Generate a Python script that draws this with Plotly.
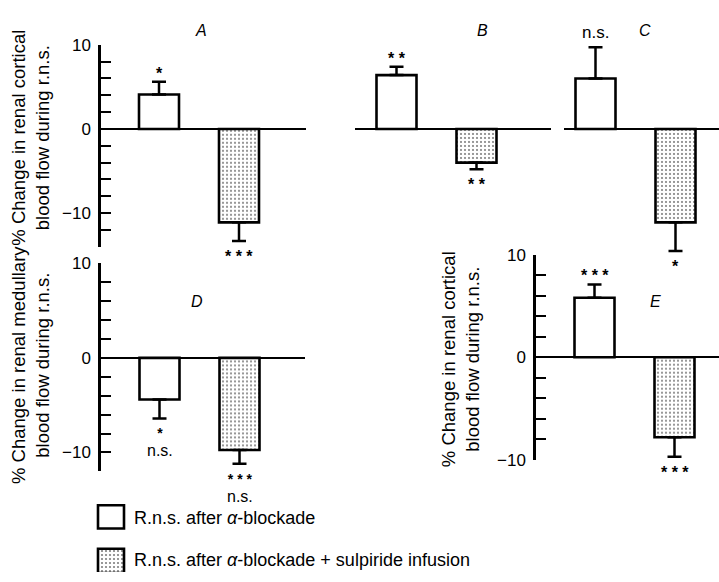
import plotly.graph_objects as go

W, H = 719, 582
FONT = "Liberation Sans, Arial, Helvetica, sans-serif"

# ---------------- data ----------------
panels = ["A", "B", "C", "D", "E"]
series_names = ["R.n.s. after <i>α</i>-blockade",
                "R.n.s. after <i>α</i>-blockade + sulpiride infusion"]
blockade = [4.1, 6.4, 6.0, -4.4, 5.8]
blockade_err = [1.5, 1.0, 3.7, 2.0, 1.3]
sulpiride = [-11.1, -4.0, -11.1, -9.75, -7.8]
sulpiride_err = [2.2, 0.8, 3.4, 1.45, 1.9]
blockade_sig = [["*"], ["* *"], ["n.s."], ["*", "n.s."], ["* * *"]]
sulpiride_sig = [["* * *"], ["* *"], ["*"], ["* * *", "n.s."], ["* * *"]]
tick_vals = [-10, 0, 10]
tick_text = ["−10", "0", "10"]
axis_titles = {
    "A": "% Change in renal cortical<br>blood flow during r.n.s.",
    "D": "% Change in renal medullary<br>blood flow during r.n.s.",
    "E": "% Change in renal cortical<br>blood flow during r.n.s.",
}

# ---------------- layout geometry (pixels) ----------------
geom = {
    "A": dict(x0=101, x1=306, c1=159, yr=(-14, 10), zero=124, ppu=8.7, axis=True),
    "B": dict(x0=355, x1=551, c1=396.5, yr=(-16, 12), zero=124, ppu=8.7, axis=False),
    "C": dict(x0=564, x1=719, c1=595.5, yr=(-16, 12), zero=124, ppu=8.7, axis=False),
    "D": dict(x0=101, x1=305, c1=159.5, yr=(-12, 10), zero=360.7, ppu=9.77, axis=True),
    "E": dict(x0=536, x1=719, c1=594.5, yr=(-10, 10), zero=360, ppu=10.6, axis=True),
}
label_pos = {"A": (201, 22), "B": (482, 22), "C": (645, 22), "D": (197, 302), "E": (655, 302)}
title_pos = {"A": (31, 133), "D": (31, 368), "E": (460, 362)}
SPACING = 80.0


def px(x):
    return x / W


def py(y):
    return 1 - y / H


def sig_text(sigs):
    two = len(sigs) > 1
    parts = []
    for s in sigs:
        if "*" in s:
            size = 14 if two else 16
            parts.append(f"<span style='font-size:{size}px'><b>{s}</b></span>")
        else:
            size = 16 if two else 17
            parts.append(f"<span style='font-size:{size}px'>{s}</span>")
    return "<br>".join(parts), (13.5 if two else 8)


fig = go.Figure()
annotations = []
layout = dict(
    width=W, height=H, margin=dict(l=0, r=0, t=0, b=0),
    paper_bgcolor="white", plot_bgcolor="rgba(0,0,0,0)",
    showlegend=False, barmode="overlay",
    font=dict(family=FONT, color="black"),
)

DOTS = dict(shape=".", fgcolor="black", bgcolor="white", size=4, solidity=0.22)

for i, p in enumerate(panels):
    g = geom[p]
    n = i + 1
    xa = "x" if n == 1 else f"x{n}"
    ya = "y" if n == 1 else f"y{n}"
    xk = "xaxis" if n == 1 else f"xaxis{n}"
    yk = "yaxis" if n == 1 else f"yaxis{n}"
    lo, hi = g["yr"]
    top_px = g["zero"] - hi * g["ppu"]
    bot_px = g["zero"] - lo * g["ppu"]
    xr = (1 - (g["c1"] - g["x0"]) / SPACING, 1 + (g["x1"] - g["c1"]) / SPACING)

    layout[xk] = dict(domain=[px(g["x0"]), px(g["x1"])], range=list(xr),
                      visible=False, anchor=ya, fixedrange=True)
    yd = dict(domain=[py(bot_px), py(top_px)], range=[lo, hi], anchor=xa,
              zeroline=True, zerolinecolor="black", zerolinewidth=2.2,
              showgrid=False, fixedrange=True)
    if g["axis"]:
        yd.update(showline=True, linecolor="black", linewidth=2.5,
                  ticks="inside", ticklen=10, tickwidth=2.2, tickcolor="black",
                  tickmode="array", tickvals=tick_vals, ticktext=tick_text,
                  tickfont=dict(family=FONT, size=17, color="black"),
                  ticklabelstandoff=4,
                  minor=dict(tickmode="linear", tick0=0, dtick=2, ticks="inside",
                             ticklen=10, tickwidth=2.2, tickcolor="black"))
    else:
        yd.update(showline=False, ticks="", showticklabels=False)
    layout[yk] = yd

    vals = [blockade[i], sulpiride[i]]
    errs = [blockade_err[i], sulpiride_err[i]]
    for j, (v, e) in enumerate(zip(vals, errs)):
        up = v >= 0
        pattern = dict(shape="") if j == 0 else DOTS
        fig.add_trace(go.Bar(
            x=[j + 1], y=[v], width=0.5, xaxis=xa, yaxis=ya,
            name=series_names[j],
            marker=dict(color="white", line=dict(color="black", width=2.6),
                        pattern=pattern),
            error_y=dict(type="data", symmetric=False,
                         array=[e if up else 0], arrayminus=[0 if up else e],
                         color="black", thickness=2.5, width=7),
            cliponaxis=False,
        ))
        sigs = (blockade_sig if j == 0 else sulpiride_sig)[i]
        end = v + e if up else v - e
        star = "*" in sigs[0]
        text, base = sig_text(sigs)
        if up:
            yanchor, shift = "bottom", (-2 if star else 3)
        else:
            yanchor, shift = "top", -5
        annotations.append(dict(
            x=j + 1, y=end, xref=xa, yref=ya, text=text, showarrow=False,
            yshift=shift, yanchor=yanchor, xanchor="center",
            font=dict(family=FONT, size=base, color="black")))

    lx, ly = label_pos[p]
    annotations.append(dict(x=px(lx), y=py(ly), xref="paper", yref="paper",
                            xanchor="center", yanchor="middle",
                            text=f"<i>{p}</i>", showarrow=False,
                            font=dict(family=FONT, size=16, color="black")))
    if p in title_pos:
        tx, ty = title_pos[p]
        annotations.append(dict(x=px(tx), y=py(ty), xref="paper", yref="paper",
                                xanchor="center", yanchor="middle",
                                text=axis_titles[p], showarrow=False, textangle=-90,
                                font=dict(family=FONT, size=18.5, color="black")))

# ---------------- legend (drawn on a pixel overlay axis) ----------------
layout["xaxis6"] = dict(domain=[0, 1], range=[0, W], visible=False, anchor="y6", fixedrange=True)
layout["yaxis6"] = dict(domain=[0, 1], range=[H, 0], visible=False, anchor="x6", fixedrange=True)
legend_rows = [(513, 537, 526), (558, 583, 570)]
for j, (t0, t1, tc) in enumerate(legend_rows):
    pattern = dict(shape="") if j == 0 else DOTS
    fig.add_trace(go.Bar(
        x=[111], y=[t1 - t0], base=[t0], width=26, xaxis="x6", yaxis="y6",
        marker=dict(color="white", line=dict(color="black", width=2.6), pattern=pattern),
        cliponaxis=False, hoverinfo="skip"))
    annotations.append(dict(x=px(132), y=py(tc), xref="paper", yref="paper",
                            text=series_names[j], showarrow=False,
                            xanchor="left", yanchor="middle",
                            font=dict(family=FONT, size=18, color="black")))

layout["annotations"] = annotations
fig.update_layout(**layout)
fig.write_html("out.html")
